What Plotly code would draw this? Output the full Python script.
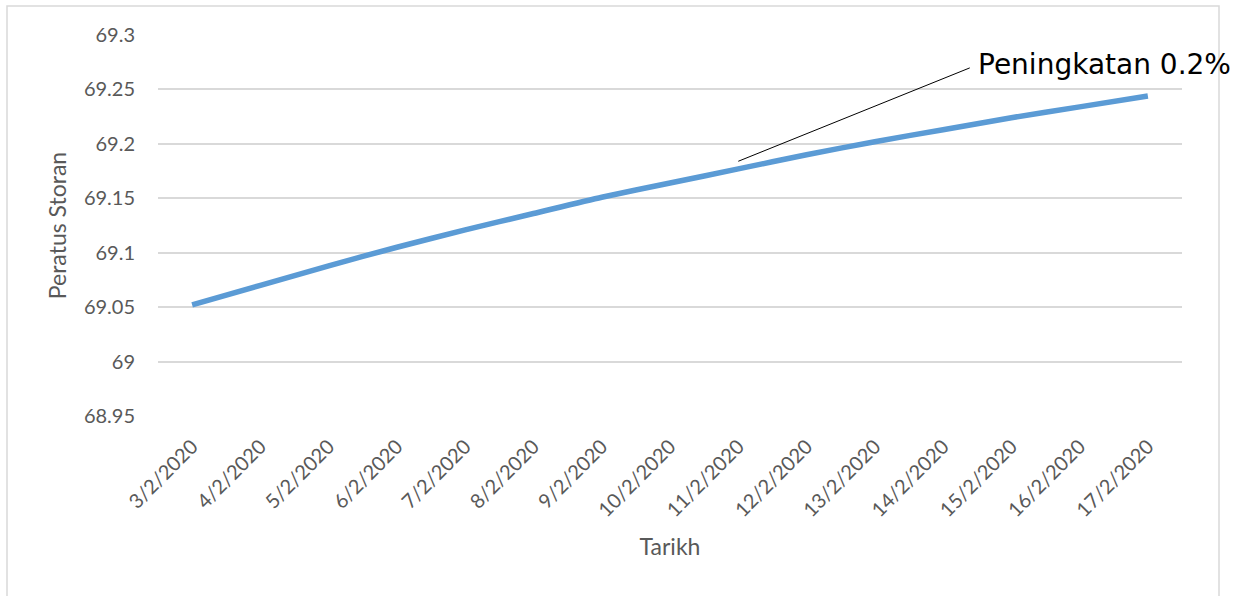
import plotly.graph_objects as go

dates = ["3/2/2020", "4/2/2020", "5/2/2020", "6/2/2020", "7/2/2020", "8/2/2020",
         "9/2/2020", "10/2/2020", "11/2/2020", "12/2/2020", "13/2/2020", "14/2/2020",
         "15/2/2020", "16/2/2020", "17/2/2020"]
storage_pct = [69.052, 69.070, 69.088, 69.105, 69.121, 69.136, 69.151, 69.164,
               69.177, 69.190, 69.202, 69.213, 69.224, 69.234, 69.244]
y_ticks = [68.95, 69.0, 69.05, 69.1, 69.15, 69.2, 69.25, 69.3]
y_tick_labels = ["68.95", "69", "69.05", "69.1", "69.15", "69.2", "69.25", "69.3"]
annot_text = "Peningkatan 0.2%"
annot_date = "11/2/2020"
annot_value = 69.184

font_main = "Lato, 'Open Sans', sans-serif"
grey = "#595959"

fig = go.Figure()
fig.add_trace(go.Scatter(
    x=dates, y=storage_pct, mode="lines",
    line=dict(color="#5B9BD5", width=5.5, shape="spline", smoothing=0.6),
    showlegend=False, hoverinfo="x+y",
))

# leader line (arrow without head, no text)
fig.add_annotation(x=annot_date, y=annot_value, xref="x", yref="y", text="",
                   showarrow=True, arrowhead=0, arrowwidth=1, arrowcolor="#000000",
                   ax=233, ay=-94, axref="pixel", ayref="pixel", standoff=0)
# label text
fig.add_annotation(x=annot_date, y=annot_value, xref="x", yref="y", text=annot_text,
                   showarrow=False, xshift=238, yshift=97, xanchor="left", yanchor="middle",
                   font=dict(family="'Century Gothic', 'DejaVu Sans', sans-serif", size=28, color="#000000"))

# outer chart border
L, R, T, B = 158, 60, 35, 180
W, H = 1242 - L - R, 596 - T - B
fig.add_shape(type="rect", xref="paper", yref="paper",
              x0=(7 - L) / W, x1=(1219 - L) / W, y0=(416 - 620) / H, y1=1 + (T - 6) / H,
              line=dict(color="#d9d9d9", width=1.5), fillcolor="rgba(0,0,0,0)", layer="below")

fig.update_layout(
    width=1242, height=596,
    margin=dict(l=L, r=R, t=T, b=B, autoexpand=False),
    paper_bgcolor="white", plot_bgcolor="white",
    font=dict(family=font_main, color=grey, size=20),
    xaxis=dict(
        type="category", categoryorder="array", categoryarray=dates,
        tickangle=-45, showgrid=False, showline=False, zeroline=False,
        ticks="", ticklabelstandoff=14,
        tickfont=dict(size=20, color=grey),
        title=dict(text="Tarikh", font=dict(size=23, color=grey), standoff=18),
        range=[-0.5, len(dates) - 0.5],
    ),
    yaxis=dict(
        range=[68.95, 69.3], tickvals=y_ticks, ticktext=y_tick_labels,
        showgrid=True, gridcolor="#d9d9d9", gridwidth=1.5,
        showline=False, zeroline=False, ticks="", ticklabelstandoff=22,
        tickfont=dict(size=20, color=grey),
        title=dict(text="Peratus Storan", font=dict(size=23, color=grey), standoff=10),
    ),
)

fig.write_html("out.html", config={"displayModeBar": False},
               post_script="document.body.style.margin='0';document.body.style.padding='0';")
